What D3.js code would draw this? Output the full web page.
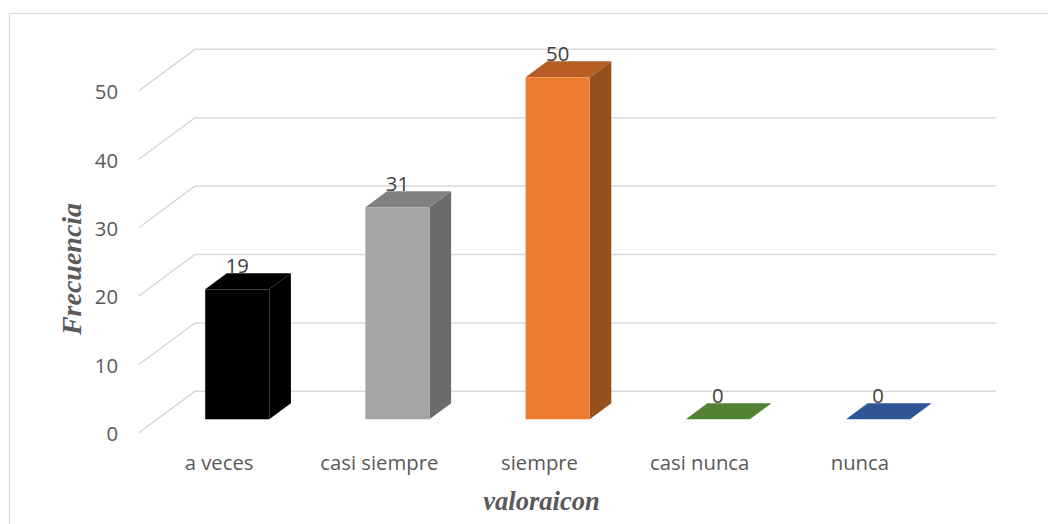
<!DOCTYPE html>
<html>
<head>
<meta charset="utf-8">
<script src="https://cdn.jsdelivr.net/npm/d3@7"></script>
<style>
  html, body { margin: 0; padding: 0; background: #fff; }
  svg { display: block; }
</style>
</head>
<body>
<svg id="chart" width="1048" height="524"></svg>
<script>
// Frequency of each answer
const categories = ["a veces", "casi siempre", "siempre", "casi nunca", "nunca"];
const values = [19, 31, 50, 0, 0];
const tickValues = [0, 10, 20, 30, 40, 50];
const frontColors = ["#000000", "#a5a5a5", "#ed7d31", "#548235", "#2f5597"];
const topColors   = ["#000000", "#808080", "#b55d22", "#548235", "#2f5597"];
const sideColors  = ["#000000", "#6b6b6b", "#95501d", "#3f6228", "#234071"];
const yTitle = "Frecuencia";
const xTitle = "valoraicon";

const svg = d3.select("#chart");
const W = 1048, H = 524;
const labelFont = "'Open Sans', sans-serif";
const labelSize = 20.3;

// Oblique 3D frame: front plane and offset to the back wall
const front = { left: 139, right: 940 };
const depth = { dx: 56, dy: -41.4 };
const barDepth = [0.324, 0.71];   // fraction of floor depth occupied by the bars

const x = d3.scaleBand()
  .domain(categories)
  .range([front.left, front.right])
  .paddingInner(0.6)
  .paddingOuter(0.3);

const y = d3.scaleLinear().domain([0, 50]).range([432.7, 90.7]);

// project a point (screen x on the front plane, value, depth fraction)
const P = (px, v, d) => [px + d * depth.dx, y(v) + d * depth.dy];

// chart border
svg.append("rect")
  .attr("x", 9.5).attr("y", 13.5)
  .attr("width", W + 10).attr("height", H + 10)
  .attr("fill", "#fff").attr("stroke", "#d9d9d9").attr("stroke-width", 1.3);

// gridlines: side-wall diagonal plus back-wall horizontal
const grid = svg.append("g")
  .attr("fill", "none").attr("stroke", "#d9d9d9").attr("stroke-width", 1.5);
tickValues.forEach(t => {
  const a = [front.left, y(t)];
  const b = [front.left + depth.dx, y(t) + depth.dy];
  const c = [front.right + depth.dx, y(t) + depth.dy];
  grid.append("path").attr("d", d3.line()([a, b, c]));
});

// tick labels
svg.append("g")
  .selectAll("text")
  .data(tickValues)
  .join("text")
  .attr("x", 118)
  .attr("y", d => y(d) + 8.5)
  .attr("text-anchor", "end")
  .attr("font-family", labelFont)
  .attr("font-size", labelSize)
  .attr("fill", "#595959")
  .text(d => d);

// bars
const bars = svg.append("g");
categories.forEach((cat, i) => {
  const v = values[i];
  const x0 = x(cat), x1 = x(cat) + x.bandwidth();
  const [d0, d1] = barDepth;
  const g = bars.append("g");
  const poly = pts => "M" + pts.map(p => p.join(",")).join("L") + "Z";

  // right side face
  if (v > 0) {
    g.append("path")
      .attr("d", poly([P(x1, 0, d0), P(x1, 0, d1), P(x1, v, d1), P(x1, v, d0)]))
      .attr("fill", sideColors[i]);
  }
  // top face
  g.append("path")
    .attr("d", poly([P(x0, v, d0), P(x1, v, d0), P(x1, v, d1), P(x0, v, d1)]))
    .attr("fill", topColors[i]);
  // front face
  if (v > 0) {
    const [fx0, fyTop] = P(x0, v, d0);
    const [fx1, fyBot] = P(x1, 0, d0);
    g.append("rect")
      .attr("x", fx0).attr("y", fyTop)
      .attr("width", fx1 - fx0).attr("height", fyBot - fyTop)
      .attr("fill", frontColors[i]);
  }
  // value label above the bar
  const cx = (P(x0, v, d0)[0] + P(x1, v, d0)[0]) / 2;
  const labelY = P(x0, v, d1)[1];
  g.append("text")
    .attr("x", cx).attr("y", labelY)
    .attr("text-anchor", "middle")
    .attr("font-family", labelFont)
    .attr("font-size", labelSize)
    .attr("fill", "#404040")
    .text(v);
});

// category labels
svg.append("g")
  .selectAll("text")
  .data(categories)
  .join("text")
  .attr("x", d => x(d) + x.bandwidth() / 2)
  .attr("y", 470)
  .attr("text-anchor", "middle")
  .attr("font-family", labelFont)
  .attr("font-size", labelSize)
  .attr("fill", "#595959")
  .text(d => d);

// axis titles
svg.append("text")
  .attr("transform", "translate(81,269) rotate(-90)")
  .attr("text-anchor", "middle")
  .attr("font-family", "'Liberation Serif', serif")
  .attr("font-style", "italic").attr("font-weight", "bold")
  .attr("font-size", 28)
  .attr("fill", "#595959")
  .text(yTitle);

svg.append("text")
  .attr("x", 541.5).attr("y", 510)
  .attr("text-anchor", "middle")
  .attr("font-family", "'Liberation Serif', serif")
  .attr("font-style", "italic").attr("font-weight", "bold")
  .attr("font-size", 26.5)
  .attr("fill", "#595959")
  .text(xTitle);
</script>
</body>
</html>
